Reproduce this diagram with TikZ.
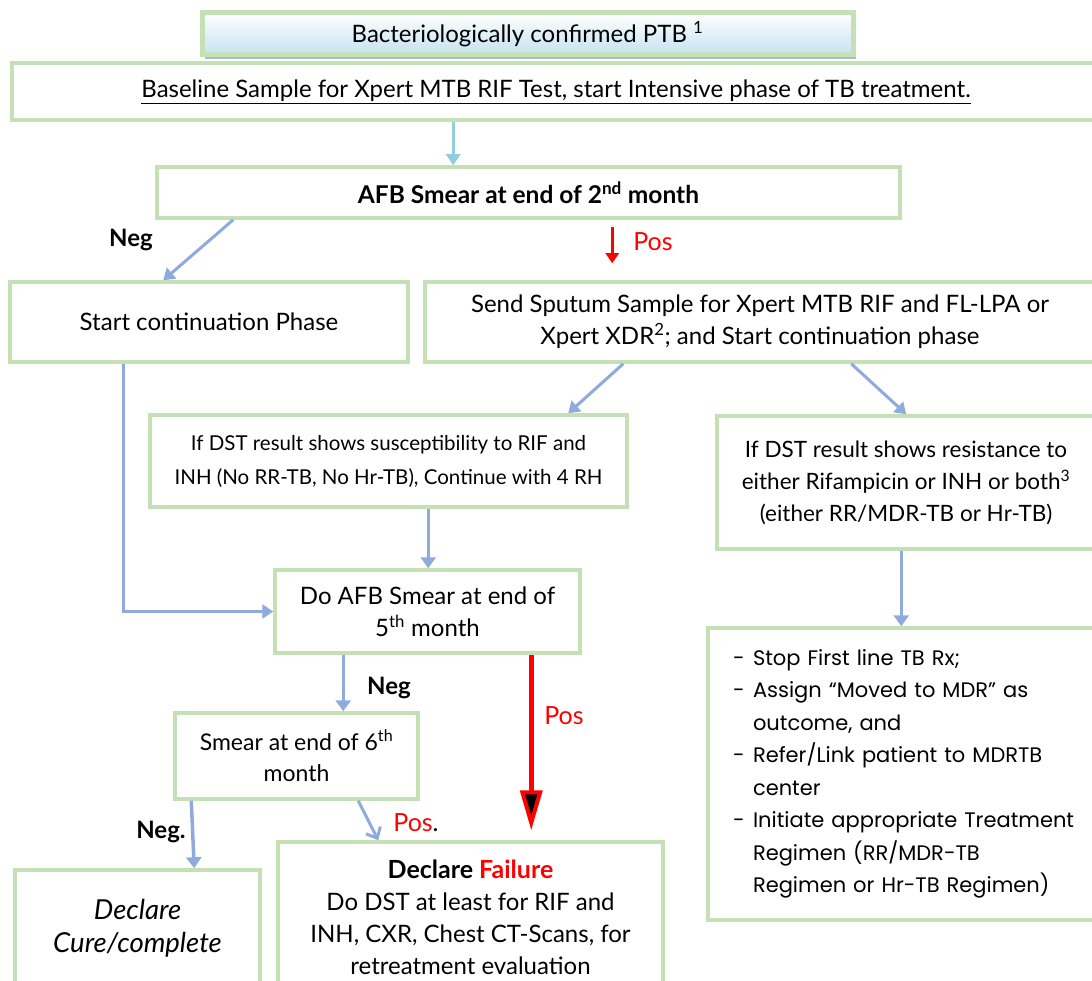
\documentclass[tikz,border=0pt]{standalone}
\usepackage{fontspec}
\setmainfont{Lato}
\newfontfamily\gothic{Poppins}
\usetikzlibrary{arrows.meta,shadows}
\definecolor{boxgreen}{RGB}{197,224,180}
\definecolor{arrblue}{RGB}{143,170,220}
\definecolor{lblue}{RGB}{146,205,220}
\definecolor{shadeblue}{RGB}{196,226,241}
\definecolor{shadowgray}{RGB}{150,170,190}
\definecolor{posred}{RGB}{255,0,0}
\begin{document}
\begin{tikzpicture}[x=1pt,y=-1pt,
  box/.style={draw=boxgreen, line width=3.5pt, fill=white, align=center, inner sep=0pt,
    font=\fontsize{24}{32}\selectfont},
  lbl/.style={font=\fontsize{24}{26}\selectfont\bfseries, inner sep=0pt},
  redlbl/.style={font=\fontsize{25}{26}\selectfont, text=posred, inner sep=0pt},
  barrow/.style={draw=arrblue, line width=3.5pt, -{Triangle[length=11pt,width=15pt]}},
  tharrow/.style={draw=arrblue, line width=3pt, -{Triangle[length=11pt,width=14pt]}},
  vbarrow/.style={draw=arrblue, line width=3pt, -{Straight Barb[length=9pt,width=16pt,line width=3pt]}},
  lbarrow/.style={draw=lblue, line width=3pt, -{Triangle[length=11pt,width=14pt]}},
  redarrow/.style={draw=posred, line width=3.5pt, -{Triangle[length=10pt,width=13pt]}},
  bigred/.style={draw=posred, line width=4.5pt, -{Triangle[length=40pt,width=22pt,fill=black,line width=4pt]}}
]
\clip (0,0) rectangle (1092,981);
\fill[white] (0,0) rectangle (1092,981);

% title
\node[draw=boxgreen, line width=5pt, top color=white, bottom color=shadeblue,
  minimum width=651pt, minimum height=42pt, inner sep=0pt,
  drop shadow={shadow xshift=3pt, shadow yshift=-4pt, fill=shadowgray, opacity=0.8},
  font=\fontsize{24}{26}\selectfont] (title) at (527.5,34) {Bacteriologically confirmed PTB \textsuperscript{1}};

\node[box, minimum width=1088pt, minimum height=57pt] (base) at (556,91.5)
  {\underline{Baseline Sample for Xpert MTB RIF Test, start Intensive phase of TB treatment.}};

\node[box, minimum width=743pt, minimum height=51pt, font=\fontsize{24.5}{32}\selectfont\bfseries] (afb) at (528.5,192.5)
  {AFB Smear at end of 2\textsuperscript{nd} month};

\node[box, minimum width=398pt, minimum height=80pt] (start) at (209,322) {Start continuation Phase};

\node[box, minimum width=670pt, minimum height=80pt] (send) at (760,322)
  {Send Sputum Sample for Xpert MTB RIF and FL-LPA or\\Xpert XDR\textsuperscript{2}; and Start continuation phase};

\node[box, minimum width=477pt, minimum height=92pt, font=\fontsize{20.5}{34}\selectfont] (susc) at (388.5,461)
  {If DST result shows susceptibility to RIF and\\INH (No RR-TB, No Hr-TB), Continue with 4 RH};

\node[box, minimum width=378pt, minimum height=133pt, font=\fontsize{22.5}{32}\selectfont] (resist) at (906,482.5)
  {If DST result shows resistance to\\either Rifampicin or INH or both\textsuperscript{3}\\(either RR/MDR-TB or Hr-TB)};

\node[box, minimum width=305pt, minimum height=83pt] (fifth) at (427.5,611.5)
  {Do AFB Smear at end of\\5\textsuperscript{th} month};

\node[box, minimum width=392pt, minimum height=292pt, align=left, text width=342pt, inner xsep=25pt,
  font=\gothic\fontsize{21}{32.5}\selectfont] (list) at (904,774)
  {\makebox[20pt][l]{-}Stop First line TB Rx;\\
   \makebox[20pt][l]{-}Assign “Moved to MDR” as\\
   \hspace*{20pt}outcome, and\\
   \makebox[20pt][l]{-}Refer/Link patient to MDRTB\\
   \hspace*{20pt}center\\
   \makebox[20pt][l]{-}Initiate appropriate Treatment\\
   \hspace*{20pt}Regimen (RR/MDR-TB\\
   \hspace*{20pt}Regimen or Hr-TB Regimen)};

\node[box, minimum width=243pt, minimum height=86pt, font=\fontsize{23}{31}\selectfont] (six) at (296.5,756)
  {Smear at end of 6\textsuperscript{th}\\month};

\node[box, minimum width=245pt, minimum height=116pt, font=\fontsize{27.5}{33}\selectfont\itshape] (cure) at (137.5,928)
  {Declare\\Cure/complete};

\node[box, minimum width=385pt, minimum height=150pt] (fail) at (470.5,917)
  {{\fontsize{25}{32}\selectfont\bfseries Declare \textcolor{posred}{Failure}}\\Do DST at least for RIF and\\INH, CXR, Chest CT-Scans, for\\retreatment evaluation};

% connectors
\draw[lbarrow] ([xshift=443pt]base.south west) -- ([xshift=298pt]afb.north west);
\draw[tharrow] ([xshift=78pt]afb.south west) -- ([xshift=155pt]start.north west);
\node[lbl] (neg1) at (131,240) {Neg};
\draw[redarrow, shorten <=7pt, shorten >=17pt] ([xshift=457pt]afb.south west) -- ([xshift=189pt]send.north west);
\node[redlbl] (pos1) at (653,242) {Pos};
\draw[tharrow] ([xshift=200pt]send.south west) -- ([xshift=420pt]susc.north west);
\draw[tharrow] ([xshift=428pt]send.south west) -- ([xshift=191pt]resist.north west);
\draw[barrow] ([xshift=280pt]susc.south west) -- ([xshift=155pt]fifth.north west);
\draw[tharrow] ([xshift=115pt]start.south west) |- (fifth.west);
\draw[barrow] ([xshift=186pt]resist.south west) -- ([xshift=195pt]list.north west);
\draw[barrow] ([xshift=70pt]fifth.south west) -- ([xshift=170pt]six.north west);
\node[lbl] (neg2) at (389,688) {Neg};
\draw[bigred, shorten >=10pt] ([xshift=258pt]fifth.south west) -- ([xshift=255pt]fail.north west);
\node[redlbl] (pos2) at (564,716) {Pos};
\draw[barrow] ([xshift=18pt]six.south west) -- ([xshift=181pt]cure.north west);
\node[lbl] (neg3) at (161,832) {Neg.};
\draw[vbarrow] ([xshift=185pt]six.south west) -- ([xshift=102pt]fail.north west);
\node[redlbl] (pos3) at (416,823) {Pos\textcolor{black}{.}};
\end{tikzpicture}
\end{document}
